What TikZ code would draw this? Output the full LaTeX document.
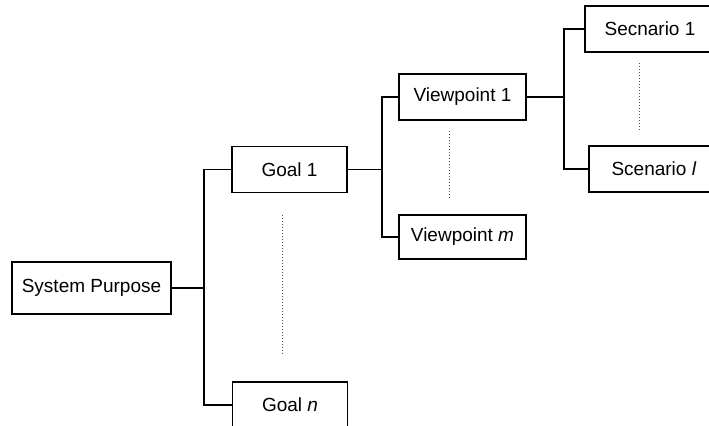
\documentclass[tikz,border=0pt]{standalone}
\usepackage{fontspec}
\setmainfont{Liberation Sans}
\usepackage{tikz}
\usetikzlibrary{positioning}
\tikzset{
  treebox/.style={draw, line width=0.7pt, inner sep=0pt,
    minimum height=23pt, align=center, font=\fontsize{9.5}{11}\selectfont},
  link/.style={line width=0.7pt},
  gap/.style={densely dotted, line width=0.5pt, black!70},
}

\begin{document}
\begin{tikzpicture}[x=0.5pt, y=-0.5pt]
  \useasboundingbox (0,0) rectangle (709,425);
  \clip (0,0) rectangle (709,425);

  % Root
  \node[treebox, minimum width=79.5pt, minimum height=26pt] (sp) at (91.5,288) {System Purpose};

  % Goals
  \node[treebox, minimum width=57.5pt] (g1) at (289.5,169.5) {Goal 1};
  \node[treebox, minimum width=57.5pt] (gn) at (290,405) {Goal \textit{n}};

  % Viewpoints
  \node[treebox, minimum width=63.5pt] (v1) at (462.5,97) {Viewpoint 1};
  \node[treebox, minimum width=63.5pt, minimum height=22pt] (vm) at (462.5,237) {Viewpoint \textit{m}};

  % Scenarios
  \node[treebox, minimum width=65pt] (s1) at (650,29) {Secnario 1};
  \node[treebox, minimum width=65pt] (sl) at (654,169) {Scenario \textit{l}};

  % Trunks
  \coordinate (gt) at (204,288);
  \coordinate (vt) at (382,169.5);
  \coordinate (st) at (564,97);

  \draw[link] (sp.east) -- (gt);
  \draw[link] (g1.west) -| (gt);
  \draw[link] (gn.west) -| (gt);

  \draw[link] (g1.east) -- (vt);
  \draw[link] (v1.west) -| (vt);
  \draw[link] (vm.west) -| (vt);

  \draw[link] (v1.east) -- (st);
  \draw[link] (s1.west) -| (st);
  \draw[link] (sl.west) -| (st);

  % Ellipses between siblings
  \coordinate (ga) at (282,215);
  \coordinate (gb) at (282,355);
  \coordinate (va) at (449,131);
  \coordinate (vb) at (449,198);
  \coordinate (sa) at (639,63);
  \coordinate (sb) at (639,130);
  \draw[gap] (ga) -- (gb);
  \draw[gap] (va) -- (vb);
  \draw[gap] (sa) -- (sb);
\end{tikzpicture}
\end{document}
